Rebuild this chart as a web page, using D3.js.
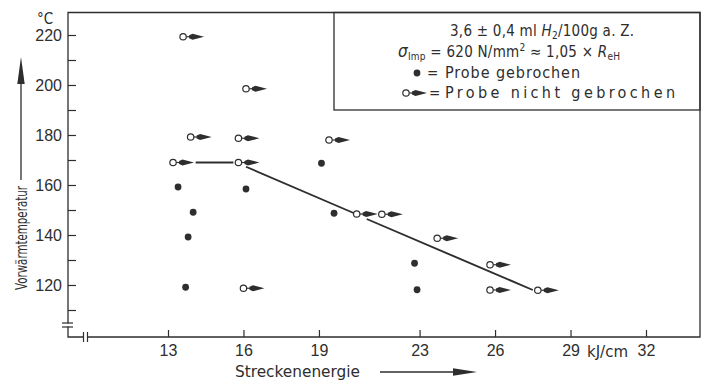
<!DOCTYPE html>
<html>
<head>
<meta charset="utf-8">
<title>Vorwärmtemperatur über Streckenenergie</title>
<script src="https://cdn.jsdelivr.net/npm/d3@7"></script>
<style>
  body { margin: 0; background: #fff; }
  svg { display: block; font-family: "DejaVu Sans Condensed", "Liberation Sans Narrow", sans-serif; }
  text { fill: #2e2e2e; }
</style>
</head>
<body>
<svg id="chart" width="709" height="383"></svg>
<script>
// Achsen
var energyTicks = [13, 16, 19, 23, 26, 29, 32];
var tempTicks = [110, 120, 130, 140, 150, 160, 170, 180, 190, 200, 210, 220];
var tempLabels = [120, 140, 160, 180, 200, 220];

// Probe nicht gebrochen (offener Kreis mit Pfeil)
var openEnergy = [13.6, 16.1, 13.9, 15.8, 19.4, 13.2, 15.8, 20.5, 21.5, 23.7, 25.8, 25.8, 27.7, 16.0];
var openTemp   = [219.3, 198.5, 179.2, 178.7, 178, 169, 169, 148.4, 148.3, 138.7, 128.1, 118, 117.9, 118.7];

// Probe gebrochen (voller Punkt)
var fullEnergy = [19.1, 13.4, 16.1, 14.0, 19.6, 13.8, 13.7, 22.8, 22.9];
var fullTemp   = [168.7, 159.2, 158.4, 149.1, 148.7, 139.2, 119.1, 128.7, 118.1];

// Grenzlinie, drei Stücke
var lineEnergy = [[14.1, 15.6], [16.1, 20.4], [20.9, 27.5]];
var lineTemp   = [[169, 169], [167.3, 148.7], [146.4, 118]];

var ink = "#2e2e2e";
var svg = d3.select("#chart");

// Rahmenmaße (nicht "top" nennen, das ist window.top)
var pL = 68, pR = 700, pT = 12.5, pB = 337;

var x = d3.scaleLinear().domain([13, 32]).range([168, 646]);
var y = d3.scaleLinear().domain([120, 220]).range([285, 35]);

// Rahmen
var frame = svg.append("g").attr("stroke", ink).attr("stroke-width", 1.3).attr("fill", "none");
frame.append("path").attr("d", "M" + pL + "," + pT + "H" + pR + "V" + pB + "H" + pL + "Z");

// Legende (Kasten)
frame.append("rect").attr("x", 334).attr("y", pT).attr("width", pR - 334).attr("height", 110 - pT);

// Achsenbrüche
svg.append("rect").attr("x", 84).attr("y", 331).attr("width", 3).attr("height", 12).attr("fill", "#fff");
svg.append("rect").attr("x", 62).attr("y", 323.5).attr("width", 12).attr("height", 3).attr("fill", "#fff");
var brk = svg.append("g").attr("stroke", ink).attr("stroke-width", 1.2);
brk.selectAll("line.xb").data([83.5, 87.5]).enter().append("line")
  .attr("x1", function(d) { return d; }).attr("x2", function(d) { return d; })
  .attr("y1", 332).attr("y2", 342);
brk.selectAll("line.yb").data([323, 327]).enter().append("line")
  .attr("x1", 62).attr("x2", 73)
  .attr("y1", function(d) { return d; }).attr("y2", function(d) { return d; });

// x-Achse
var xAxis = d3.axisBottom(x).tickValues(energyTicks).tickSizeInner(-7).tickSizeOuter(0).tickPadding(8);
var gx = svg.append("g").attr("transform", "translate(0," + pB + ")").call(xAxis);
gx.select(".domain").remove();
gx.selectAll("line").attr("stroke", ink).attr("stroke-width", 1.2);
gx.selectAll("text").attr("font-size", 16).attr("fill", ink).attr("font-family", null);

svg.append("text").attr("x", 587).attr("y", 357).attr("font-size", 16)
  .attr("textLength", 41).attr("lengthAdjust", "spacingAndGlyphs").text("kJ/cm");

// y-Achse
var yAxis = d3.axisLeft(y).tickValues(tempTicks).tickSizeInner(-8).tickSizeOuter(0).tickPadding(6)
  .tickFormat(function(d) { return tempLabels.indexOf(d) >= 0 ? d : ""; });
var gy = svg.append("g").attr("transform", "translate(" + pL + ",0)").call(yAxis);
gy.select(".domain").remove();
gy.selectAll("line").attr("stroke", ink).attr("stroke-width", 1.2);
gy.selectAll("text").attr("font-size", 16).attr("fill", ink).attr("font-family", null);

svg.append("text").attr("x", 37).attr("y", 23.5).attr("font-size", 15).text("°C");

// Achsentitel
svg.append("text").attr("transform", "translate(27,290) rotate(-90)")
  .attr("font-size", 15).attr("textLength", 104).attr("lengthAdjust", "spacingAndGlyphs")
  .text("Vorwärmtemperatur");
svg.append("line").attr("x1", 21).attr("x2", 21).attr("y1", 180).attr("y2", 80)
  .attr("stroke", ink).attr("stroke-width", 1.3);
svg.append("path").attr("d", "M21,57L17.3,84L24.7,84Z").attr("fill", ink);

svg.append("text").attr("x", 235).attr("y", 377).attr("font-size", 15)
  .attr("textLength", 125).attr("lengthAdjust", "spacingAndGlyphs").text("Streckenenergie");
svg.append("line").attr("x1", 380).attr("x2", 458).attr("y1", 372).attr("y2", 372)
  .attr("stroke", ink).attr("stroke-width", 1.3);
svg.append("path").attr("d", "M477,372L453,368.3L453,375.7Z").attr("fill", ink);

// Grenzlinie
var line = d3.line().x(function(d) { return x(d[0]); }).y(function(d) { return y(d[1]); });
svg.selectAll("path.trend").data(lineEnergy).enter().append("path")
  .attr("class", "trend")
  .attr("d", function(e, i) { return line([[e[0], lineTemp[i][0]], [e[1], lineTemp[i][1]]]); })
  .attr("fill", "none").attr("stroke", ink).attr("stroke-width", 1.9);

// Marker: offener Kreis mit Pfeil
function openMarker(g, cx, cy) {
  g.append("line").attr("x1", cx + 3.3).attr("x2", cx + 7).attr("y1", cy).attr("y2", cy)
    .attr("stroke", ink).attr("stroke-width", 1.2);
  g.append("path")
    .attr("d", "M" + (cx + 6) + "," + (cy - 1.5) + "L" + (cx + 9.5) + "," + (cy - 3) +
      "L" + (cx + 21) + "," + cy + "L" + (cx + 9.5) + "," + (cy + 3) + "L" + (cx + 6) + "," + (cy + 1.5) + "Z")
    .attr("fill", ink);
  g.append("circle").attr("cx", cx).attr("cy", cy).attr("r", 3.2)
    .attr("fill", "#fff").attr("stroke", ink).attr("stroke-width", 1.2);
}

var gOpen = svg.append("g");
openEnergy.forEach(function(e, i) { openMarker(gOpen, x(e), y(openTemp[i])); });

svg.append("g").selectAll("circle").data(fullEnergy).enter().append("circle")
  .attr("cx", function(d) { return x(d); })
  .attr("cy", function(d, i) { return y(fullTemp[i]); })
  .attr("r", 3.4).attr("fill", ink);

// Legende (Text)
var t1 = svg.append("text").attr("x", 450).attr("y", 36).attr("font-size", 15)
  .attr("textLength", 184).attr("lengthAdjust", "spacing");
t1.append("tspan").text("3,6 ± 0,4 ml ");
t1.append("tspan").attr("font-style", "italic").text("H");
t1.append("tspan").attr("font-size", 10).attr("dy", 3).text("2");
t1.append("tspan").attr("dy", -3).text("/100g  a. Z.");

var t2 = svg.append("text").attr("x", 398).attr("y", 57).attr("font-size", 15)
  .attr("textLength", 222).attr("lengthAdjust", "spacing");
t2.append("tspan").attr("font-style", "italic").attr("font-size", 17).text("σ");
t2.append("tspan").attr("font-size", 10).attr("dy", 3).text("Imp");
t2.append("tspan").attr("dy", -3).text(" = 620 N/mm");
t2.append("tspan").attr("font-size", 10).attr("dy", -6).text("2");
t2.append("tspan").attr("dy", 6).text(" ≈ 1,05 × ");
t2.append("tspan").attr("font-style", "italic").text("R");
t2.append("tspan").attr("font-size", 10).attr("dy", 3).text("eH");

svg.append("circle").attr("cx", 417).attr("cy", 73).attr("r", 3.4).attr("fill", ink);
svg.append("text").attr("x", 427).attr("y", 78).attr("font-size", 15).text("=");
svg.append("text").attr("x", 445).attr("y", 78).attr("font-size", 16)
  .attr("textLength", 135).attr("lengthAdjust", "spacing").text("Probe gebrochen");

openMarker(svg.append("g"), 406, 93);
svg.append("text").attr("x", 429).attr("y", 98).attr("font-size", 15).text("=");
svg.append("text").attr("x", 445).attr("y", 98).attr("font-size", 16)
  .attr("textLength", 230).attr("lengthAdjust", "spacing").text("Probe nicht gebrochen");
</script>
</body>
</html>
